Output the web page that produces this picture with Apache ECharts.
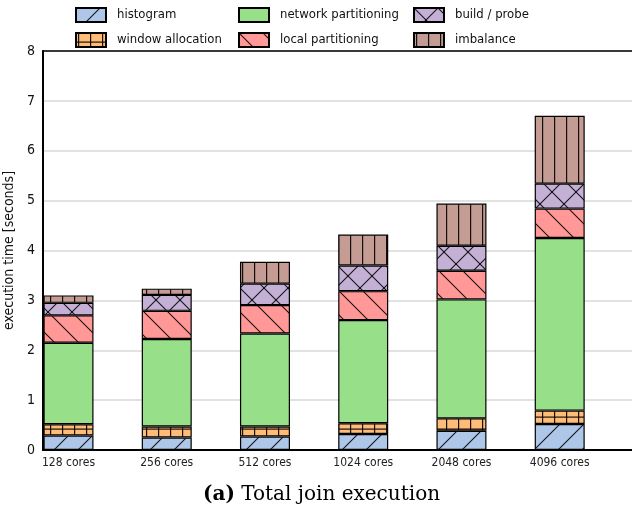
<!DOCTYPE html>
<html>
<head>
<meta charset="utf-8">
<script src="https://cdn.jsdelivr.net/npm/echarts@6/dist/echarts.min.js"></script>
<style>
  html, body { margin: 0; padding: 0; background: #fff; }
  #chart { width: 632px; height: 513px; }
</style>
</head>
<body>
<div id="chart"></div>
<script>
// Join execution time breakdown per core count (seconds)
const categories = ['128 cores', '256 cores', '512 cores', '1024 cores', '2048 cores', '4096 cores'];
const histogram           = [0.29, 0.25, 0.27, 0.32, 0.385, 0.52];
const windowAllocation    = [0.225, 0.22, 0.20, 0.215, 0.25, 0.27];
const networkPartitioning = [1.635, 1.755, 1.865, 2.07, 2.385, 3.46];
const localPartitioning   = [0.55, 0.565, 0.57, 0.58, 0.575, 0.59];
const buildProbe          = [0.25, 0.32, 0.43, 0.515, 0.50, 0.50];
const imbalance           = [0.15, 0.125, 0.44, 0.62, 0.845, 1.36];
const yTicks = [0, 1, 2, 3, 4, 5, 6, 7, 8];

const SANS = "'DejaVu Sans Condensed', 'Liberation Sans Narrow', 'Roboto', sans-serif";
const SERIF = "'DejaVu Serif', 'Liberation Serif', serif";
const HATCH = 'rgba(0,0,0,0.9)';

// Build a repeating fill: solid background plus hatch strokes
function pattern(bg, size, draw) {
  const c = document.createElement('canvas');
  c.width = size; c.height = size;
  const ctx = c.getContext('2d');
  ctx.fillStyle = bg;
  ctx.fillRect(0, 0, size, size);
  ctx.strokeStyle = HATCH;
  ctx.fillStyle = HATCH;
  ctx.lineWidth = 1.1;
  draw(ctx, size);
  return { image: c, repeat: 'repeat' };
}
function line(ctx, x1, y1, x2, y2) {
  ctx.beginPath(); ctx.moveTo(x1, y1); ctx.lineTo(x2, y2); ctx.stroke();
}
const slash = (ctx, s) => {           // "/" lines
  line(ctx, -2, s + 2, s + 2, -2);
  line(ctx, -2, 2, 2, -2);
  line(ctx, s - 2, s + 2, s + 2, s - 2);
};
const backslash = (ctx, s) => {       // "\" lines
  line(ctx, -2, -2, s + 2, s + 2);
  line(ctx, s - 2, -2, s + 2, 2);
  line(ctx, -2, s - 2, 2, s + 2);
};
const vertical = (ctx, s) => { ctx.fillRect(2, 0, 1.2, s); };
const grid = (ctx, s) => { ctx.fillRect(2, 0, 1.2, s); ctx.fillRect(0, 8.5, s, 1.2); };
const cross = (ctx, s) => { slash(ctx, s); backslash(ctx, s); };

const fills = {
  histogram: pattern('#aec7e8', 24, slash),
  window: pattern('#ffbb78', 12, grid),
  network: '#98df8a',
  local: pattern('#ff9896', 24, backslash),
  build: pattern('#c5b0d5', 24, cross),
  imbalance: pattern('#c49c94', 12, vertical)
};

const seriesDefs = [
  ['histogram', histogram, fills.histogram],
  ['window allocation', windowAllocation, fills.window],
  ['network partitioning', networkPartitioning, fills.network],
  ['local partitioning', localPartitioning, fills.local],
  ['build / probe', buildProbe, fills.build],
  ['imbalance', imbalance, fills.imbalance]
];

const legendBase = {
  orient: 'vertical',
  top: 7,
  padding: 0,
  icon: 'rect',
  itemWidth: 30,
  itemHeight: 14,
  itemGap: 9,
  selectedMode: false,
  textStyle: { fontSize: 13, fontFamily: SANS, color: '#111', padding: [0, 0, 0, 6] }
};

const chart = echarts.init(document.getElementById('chart'), null, { renderer: 'canvas' });
chart.setOption({
  animation: false,
  backgroundColor: '#fff',
  title: {
    text: '{b|(a)} Total join execution',
    left: 198,
    top: 480,
    textStyle: {
      fontFamily: SERIF, fontSize: 20, fontWeight: 'normal', color: '#000',
      rich: { b: { fontFamily: SERIF, fontSize: 20, fontWeight: 'bold', color: '#000' } }
    }
  },
  legend: [
    Object.assign({}, legendBase, { left: 75, data: ['histogram', 'window allocation'] }),
    Object.assign({}, legendBase, { left: 238, data: ['network partitioning', 'local partitioning'] }),
    Object.assign({}, legendBase, { left: 413, data: ['build / probe', 'imbalance'] })
  ],
  grid: [
    // frame: axes and gridlines
    { left: 43, right: 0, top: 51, bottom: 63, outerBoundsMode: 'none' },
    // bar placement
    { left: 68.5, right: 72.3, top: 51, bottom: 63, outerBoundsMode: 'none' }
  ],
  xAxis: [
    {
      gridIndex: 0, type: 'value', min: 0, max: 1,
      axisLine: { onZero: false, lineStyle: { color: '#000', width: 2 } },
      axisTick: { show: false }, axisLabel: { show: false }, splitLine: { show: false }
    },
    {
      // top border line of the plot frame
      gridIndex: 0, type: 'value', position: 'top', min: 0, max: 1,
      axisLine: { onZero: false, lineStyle: { color: '#000', width: 1.5 } },
      axisTick: { show: false }, axisLabel: { show: false }, splitLine: { show: false }
    },
    {
      gridIndex: 1, type: 'category', data: categories, boundaryGap: false,
      axisLine: { show: false }, axisTick: { show: false },
      axisLabel: { interval: 0, fontSize: 12, fontFamily: SANS, color: '#222', margin: 7 }
    }
  ],
  yAxis: [
    {
      gridIndex: 0, type: 'value', min: yTicks[0], max: yTicks[yTicks.length - 1], interval: 1,
      name: 'execution time [seconds]', nameLocation: 'middle', nameGap: 24,
      nameTextStyle: { fontSize: 14, fontFamily: SANS, color: '#111' },
      axisLine: { show: true, lineStyle: { color: '#000', width: 2 } },
      axisTick: { show: false },
      axisLabel: { fontSize: 14, fontFamily: SANS, color: '#111', margin: 8 },
      splitLine: { lineStyle: { color: '#d9d9d9', width: 1.5 } }
    },
    { gridIndex: 1, type: 'value', min: yTicks[0], max: yTicks[yTicks.length - 1], show: false }
  ],
  series: seriesDefs.map(([name, values, fill]) => ({
    name,
    type: 'bar',
    xAxisIndex: 2,
    yAxisIndex: 1,
    stack: 'total',
    clip: false,
    barWidth: 50,
    data: values,
    itemStyle: { color: fill, borderColor: '#000', borderWidth: 1.2 },
    emphasis: { disabled: true }
  }))
});
</script>
</body>
</html>
